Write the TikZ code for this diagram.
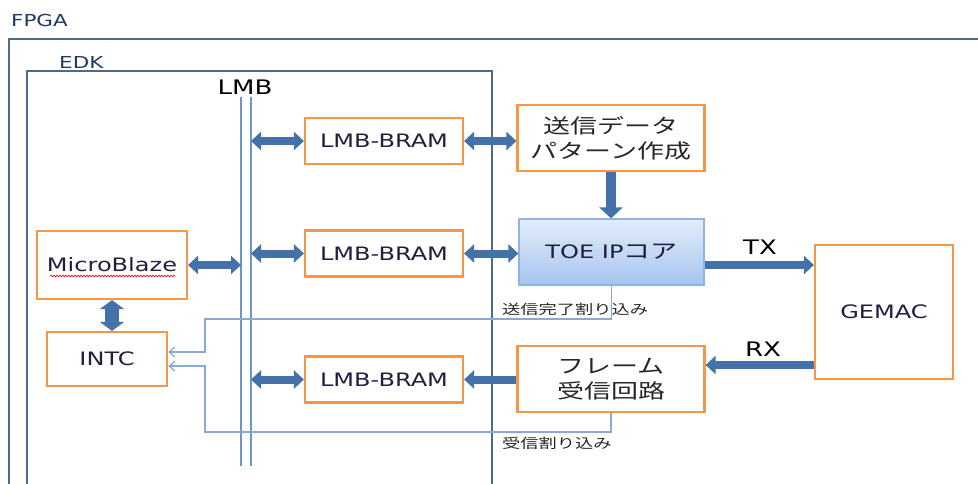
\documentclass[tikz,border=0pt]{standalone}
\usepackage{fontspec}
\setmainfont{DejaVu Sans}[FakeStretch=1.3]
\newfontfamily\jp{Noto Sans CJK JP}[FakeStretch=1.35]
\usetikzlibrary{arrows.meta,calc,decorations.pathmorphing}
\definecolor{framec}{HTML}{4A6A8F}
\definecolor{busc}{HTML}{6F95C6}
\definecolor{irqc}{HTML}{86AADA}
\definecolor{orangec}{HTML}{F79646}
\definecolor{arrowc}{HTML}{4472A8}
\definecolor{txtc}{HTML}{1F1F3F}
\definecolor{navyc}{HTML}{1F3A5F}
\definecolor{toetop}{HTML}{E2EDFB}
\definecolor{toebot}{HTML}{A6C4EE}
\definecolor{toeline}{HTML}{8EB4E3}
\tikzset{
  box/.style={draw=orangec, line width=2.2pt, fill=white, inner sep=0pt, text=txtc,
    font=\fontsize{18.5}{22}\selectfont, align=center},
  jpbox/.style={box, font=\jp\fontsize{20}{25}\selectfont, text=black!85},
  fat/.style={draw=arrowc, line width=8pt, -{Triangle[length=10pt,width=18pt]}},
  fatboth/.style={draw=arrowc, line width=8pt, {Triangle[length=10pt,width=18pt]}-{Triangle[length=10pt,width=18pt]}},
  irq/.style={draw=irqc, line width=1.2pt, -{Straight Barb[length=6pt,width=10pt]}},
  bus/.style={draw=busc, line width=1.5pt},
  outer/.style={draw=framec, line width=2pt},
  lbl/.style={inner sep=0pt, text=navyc, font=\fontsize{16.5}{18}\selectfont},
  irqlbl/.style={inner sep=0pt, anchor=west, text=black!85, font=\jp\fontsize{13.5}{15}\selectfont}
}
\begin{document}
\begin{tikzpicture}[x=1pt,y=-1pt]
\useasboundingbox (0,0) rectangle (978,484);
\clip (0,0) rectangle (978,484);
% containers
\draw[outer] (9,39) rectangle (1000,520);
\node[lbl, anchor=west] (fpgal) at (11,20) {FPGA};
\draw[outer] (27,71) rectangle (492,520);
\node[lbl, anchor=west] (edkl) at (59,62) {EDK};
% LMB bus
\coordinate (busLt) at (241,97);
\coordinate (busLb) at (241,466);
\coordinate (busRt) at (251,97);
\coordinate (busRb) at (251,466);
\draw[bus] (busLt) -- (busLb);
\draw[bus] (busRt) -- (busRb);
\node[inner sep=0pt, text=black, font=\fontsize{20}{22}\selectfont] (lmbl) at (245,87) {LMB};
% nodes
\node[box, minimum width=158pt, minimum height=46pt] (bram1) at (384,141) {LMB-BRAM};
\node[box, minimum width=158pt, minimum height=46pt] (bram2) at (384,253.5) {LMB-BRAM};
\node[box, minimum width=158pt, minimum height=46pt] (bram3) at (384,379.5) {LMB-BRAM};
\node[box, minimum width=150pt, minimum height=68pt] (mb) at (112,265) {MicroBlaze};
\node[box, minimum width=120pt, minimum height=54pt] (intc) at (107,359) {INTC};
\node[jpbox, minimum width=187pt, minimum height=66pt] (txgen) at (611,138) {送信データ\\パターン作成};
\node[box, draw=toeline, line width=1.2pt, top color=toetop, bottom color=toebot,
  minimum width=185pt, minimum height=66pt] (toe) at (611.5,252) {TOE IP{\jp\fontsize{20}{22}\selectfont コア}};
\node[jpbox, minimum width=187pt, minimum height=66pt] (frame) at (611,379) {フレーム\\受信回路};
\node[box, minimum width=138pt, minimum height=134pt] (gemac) at (884,312) {GEMAC};
% spell-check underline
\draw[red, line width=0.6pt, decorate, decoration={snake, segment length=3pt, amplitude=0.9pt}]
  ($(mb.center)+(-62,11)$) -- ($(mb.center)+(63,11)$);
% interrupt lines
\coordinate (k1) at (205,319);
\coordinate (k2) at (205,352);
\coordinate (k3) at (205,432);
\coordinate (k4) at (205,366);
\draw[irq] (toe.south) |- (k1) -- (k2) -- (k2 -| intc.east);
\draw[irq] (frame.south) |- (k3) -- (k4) -- (k4 -| intc.east);
\node[irqlbl] (irq1) at (502,309) {送信完了割り込み};
\node[irqlbl] (irq2) at (502,443) {受信割り込み};
% fat arrows
\draw[fatboth] (bram1.west -| busRt) -- (bram1.west);
\draw[fatboth] (bram2.west -| busRt) -- (bram2.west);
\draw[fatboth] (bram3.west -| busRt) -- (bram3.west);
\draw[fatboth] (mb.east) -- (mb.east -| busLt);
\draw[draw=arrowc, line width=14pt, {Triangle[length=9pt,width=24pt]}-{Triangle[length=9pt,width=24pt]}]
  (mb.south) -- (mb.south |- intc.north);
\draw[fatboth] (bram1.east) -- (bram1.east -| txgen.west);
\draw[fatboth] (bram2.east) -- (bram2.east -| toe.west);
\draw[fat] (frame.west |- bram3.east) -- (bram3.east);
\draw[draw=arrowc, line width=10pt, -{Triangle[length=11pt,width=23pt]}]
  (txgen.south) -- (txgen.south |- toe.north);
\coordinate (txs) at ($(toe.east)+(0,13)$);
\draw[fat] (txs) -- (txs -| gemac.west);
\coordinate (rxs) at ($(gemac.west)+(0,53)$);
\draw[fat] (rxs) -- (rxs -| frame.east);
\node[inner sep=0pt, text=black, font=\fontsize{20}{22}\selectfont] (txl) at (760,247) {TX};
\node[inner sep=0pt, text=black, font=\fontsize{20}{22}\selectfont] (rxl) at (763,349) {RX};
\end{tikzpicture}
\end{document}
